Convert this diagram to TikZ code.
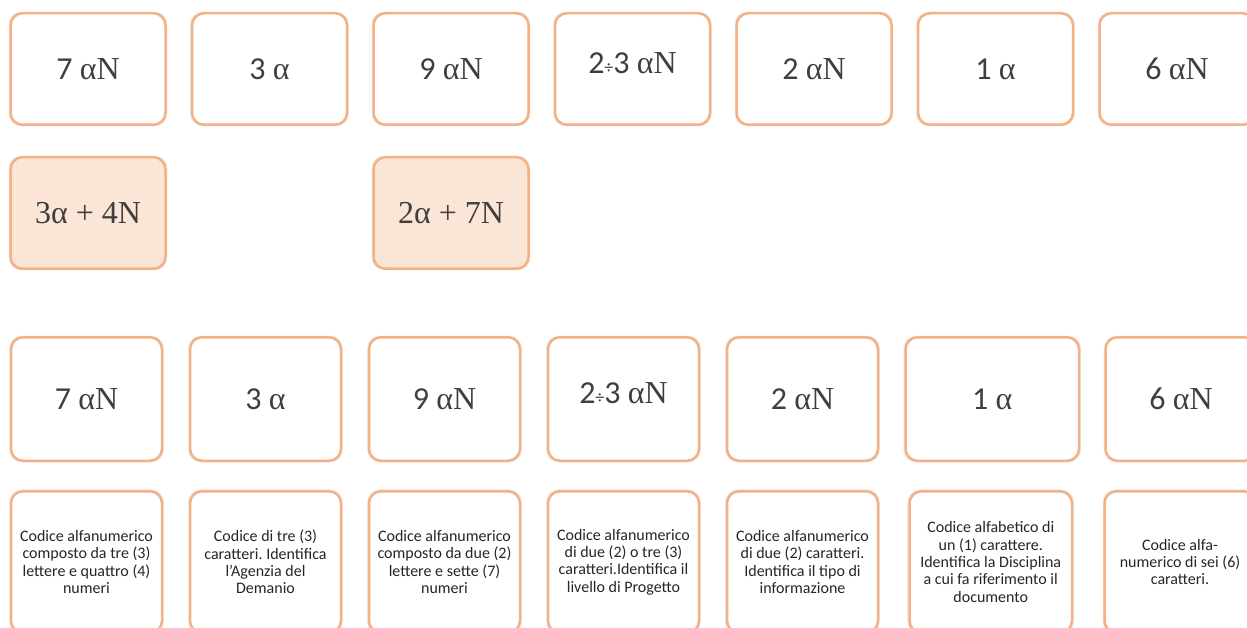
\documentclass[tikz,border=0pt]{standalone}
\usepackage{fontspec}
\setmainfont{Carlito}
\newfontfamily\grk{Liberation Serif}
\usepackage{xcolor}
\usepackage{tikz}
\usetikzlibrary{positioning,shadows}
\frenchspacing
\definecolor{boxline}{HTML}{F4B183}
\definecolor{boxfill}{HTML}{FBE5D6}
\definecolor{labtext}{HTML}{3F3F3F}
\definecolor{desctext}{HTML}{262626}
\newcommand{\an}{{\grk αN}}
\newcommand{\al}{{\grk α}}
\newcommand{\lift}[1]{\raisebox{6pt}[\height][\depth]{#1}}
\newcommand{\dv}{{\fontsize{18}{20}\selectfont ÷}}
\tikzset{
  field/.style={draw=boxline, line width=2.5pt, rounded corners=12pt, fill=white, text=labtext,
    minimum width=155pt, minimum height=111.5pt, inner sep=0pt, align=center,
    font=\fontsize{32}{36}\selectfont, general shadow={fill=black!7, shadow scale=1.025}},
  split/.style={field, fill=boxfill, font=\grk\fontsize{32}{36}\selectfont},
  code/.style={field, minimum width=151pt, minimum height=123.5pt},
  desc/.style={field, minimum width=151pt, minimum height=141.5pt, text=desctext,
    font=\fontsize{16}{17.4}\selectfont},
}

\begin{document}
\begin{tikzpicture}[x=1pt, y=-1pt]
\useasboundingbox (0,0) rectangle (1247,628);
\clip (0,0) rectangle (1247,628);
% top row
\node[field] (prog) at (88,69) {7 \an};
\node[field, right=24pt of prog] (agz) {3 \al};
\node[field, right=24pt of agz] (cod) {9 \an};
\node[field, right=24pt of cod] (liv) {\lift{2\dv3 \an}};
\node[field, right=24pt of liv] (tipo) {2 \an};
\node[field, right=24pt of tipo] (disc) {1 \al};
\node[field, right=24pt of disc] (num) {6 \an};
% split codes
\node[split, below=30pt of prog] (progsplit) {3α + 4N};
\node[split, below=30pt of cod] (codsplit) {2α + 7N};
% second set of fields
\node[code, below=66pt of progsplit, xshift=-1.5pt] (progb) {7 \an};
\node[code, right=25.5pt of progb] (agzb) {3 \al};
\node[code, right=25.5pt of agzb] (codb) {9 \an};
\node[code, right=25.5pt of codb] (livb) {\lift{2\dv3 \an}};
\node[code, right=25.5pt of livb] (tipob) {2 \an};
\node[code, right=25pt of tipob, minimum width=173.5pt] (discb) {1 \al};
\node[code, right=24pt of discb] (numb) {6 \an};
% descriptions
\node[desc, below=28pt of progb] (progd) {Codice alfanumerico\\composto da tre (3)\\lettere e quattro (4)\\numeri};
\node[desc, below=28pt of agzb] (agzd) {Codice di tre (3)\\caratteri. Identifica\\l’Agenzia del\\Demanio};
\node[desc, below=28pt of codb] (codd) {Codice alfanumerico\\composto da due (2)\\lettere e sette (7)\\numeri};
\node[desc, below=28pt of livb] (livd) {Codice alfanumerico\\di due (2) o tre (3)\\caratteri.Identifica il\\livello di Progetto};
\node[desc, below=28pt of tipob] (tipod) {Codice alfanumerico\\di due (2) caratteri.\\Identifica il tipo di\\informazione};
\node[desc, right=29pt of tipod, minimum width=162.5pt] (discd) {Codice alfabetico di\\un (1) carattere.\\Identifica la Disciplina\\a cui fa riferimento il\\documento};
\node[desc, right=30pt of discd] (numd) {Codice alfa-\\numerico di sei (6)\\caratteri.};
\end{tikzpicture}
\end{document}
